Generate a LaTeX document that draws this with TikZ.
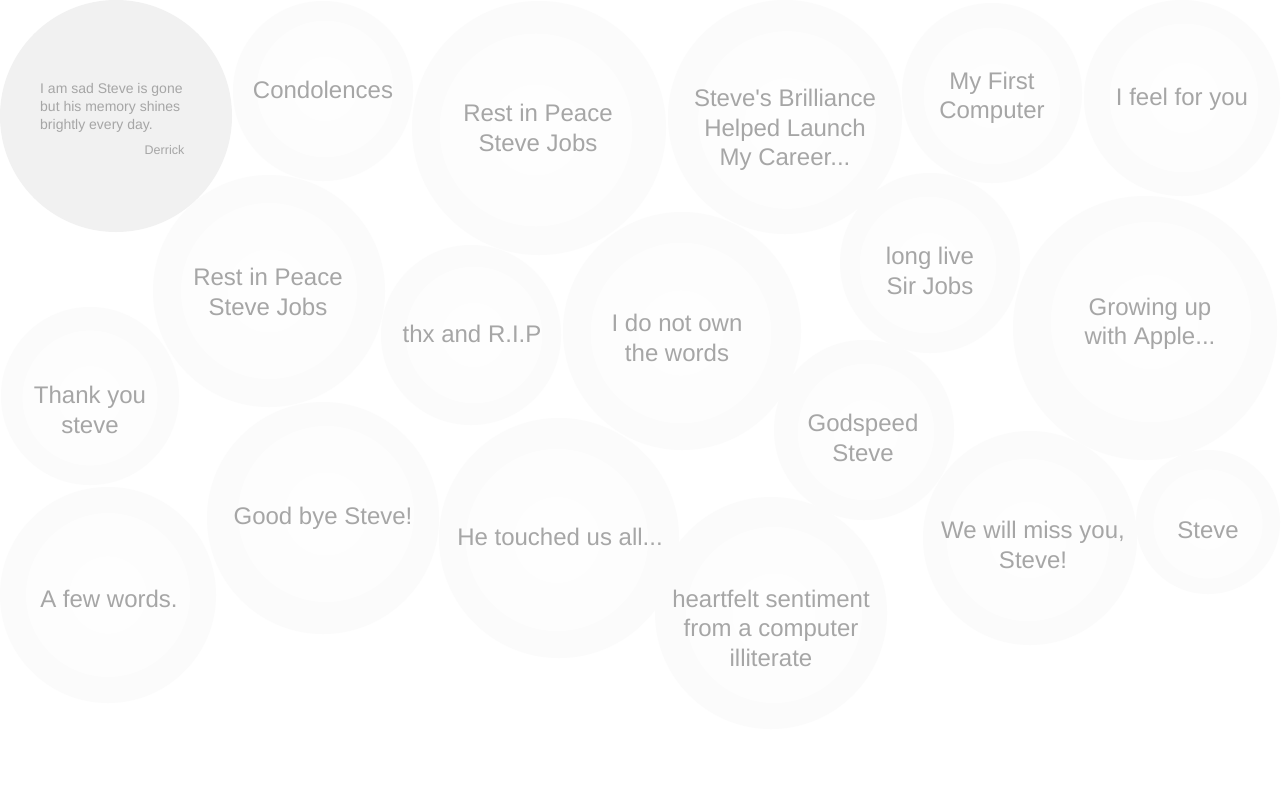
\documentclass[tikz,border=0pt]{standalone}
\usepackage{fontspec}
\setmainfont{Liberation Sans}
\definecolor{ringc}{RGB}{251,251,251}
\definecolor{innerc}{RGB}{253,253,253}
\definecolor{corec}{RGB}{254,254,254}
\definecolor{derc}{RGB}{241,241,241}
\definecolor{txtc}{RGB}{166,166,166}
\newcommand\mybub[5]{%
  \fill[ringc] (#1,#2) circle[radius=#3pt];
  \fill[innerc] (#1+#4,#2+#5) circle[radius={0.76*#3pt}];
  \fill[corec] (#1+#4,#2+#5) circle[radius={0.36*#3pt}];
}
\tikzset{
  msg/.style={text=txtc, align=center, inner sep=0pt, font=\fontsize{24}{29.5}\selectfont},
  small/.style={text=txtc, inner sep=0pt, font=\fontsize{14}{18}\selectfont}
}
\begin{document}
\begin{tikzpicture}[x=1pt,y=-1pt]
\useasboundingbox (0,0) rectangle (1281,795);
\fill[white] (0,0) rectangle (1281,795);
\clip (0,0) rectangle (1281,795);
% bubbles
\mybub{323}{91}{90}{2}{-2}
\mybub{539}{128}{127}{-3}{2}
\mybub{785}{117}{117}{2}{3}
\mybub{992}{93}{90}{0}{3}
\mybub{1182}{98}{98}{2}{0}
\mybub{269}{291}{116}{0}{0}
\mybub{471}{335}{90}{3}{0}
\mybub{682}{331}{119}{-1}{2}
\mybub{930}{263}{90}{-2}{2}
\mybub{1145}{328}{132}{6}{-6}
\mybub{90}{396}{89}{0}{2}
\mybub{864}{430}{90}{2}{2}
\mybub{323}{518}{116}{3}{-4}
\mybub{559}{538}{120}{-2}{2}
\mybub{108}{595}{108}{0}{0}
\mybub{771}{613}{116}{3}{2}
\mybub{1030}{538}{107}{-2}{2}
\mybub{1208}{522}{72}{0}{2}
% featured bubble
\node[circle, fill=derc, minimum size=232pt, inner sep=0pt] (derrick) at (116,116) {};
\node[small, align=left, anchor=north west] (dtext) at (40,83) {I am sad Steve is gone\\but his memory shines\\brightly every day.};
\node[small, font=\fontsize{12.5}{14}\selectfont, anchor=base east] (dname) at (184.5,154) {Derrick};
% messages
\node[msg] (m1) at (323,90) {Condolences};
\node[msg] (m2) at (538,128) {Rest in Peace\\Steve Jobs};
\node[msg] (m3) at (785,130) {Steve\textquotesingle s Brilliance\\Helped Launch\\My Career...};
\node[msg] (m4) at (992,98) {My First\\Computer};
\node[msg] (m5) at (1182,99) {I feel for you};
\node[msg] (m6) at (268,292) {Rest in Peace\\Steve Jobs};
\node[msg] (m7) at (472,334) {thx and R.I.P};
\node[msg] (m8) at (677,338) {I do not own\\the words};
\node[msg] (m9) at (930,271) {long live\\Sir Jobs};
\node[msg] (m10) at (1150,324) {Growing up\\with Apple...};
\node[msg] (m11) at (90,410) {Thank you\\steve};
\node[msg] (m12) at (863,438) {Godspeed\\Steve};
\node[msg] (m13) at (323,518) {Good bye Steve!};
\node[msg] (m14) at (560,537) {He touched us all...};
\node[msg] (m15) at (109,599) {A few words.};
\node[msg] (m16) at (771,628) {heartfelt sentiment\\from a computer\\illiterate};
\node[msg] (m17) at (1033,545) {We will miss you,\\Steve!};
\node[msg] (m18) at (1208,530) {Steve};
\end{tikzpicture}
\end{document}
